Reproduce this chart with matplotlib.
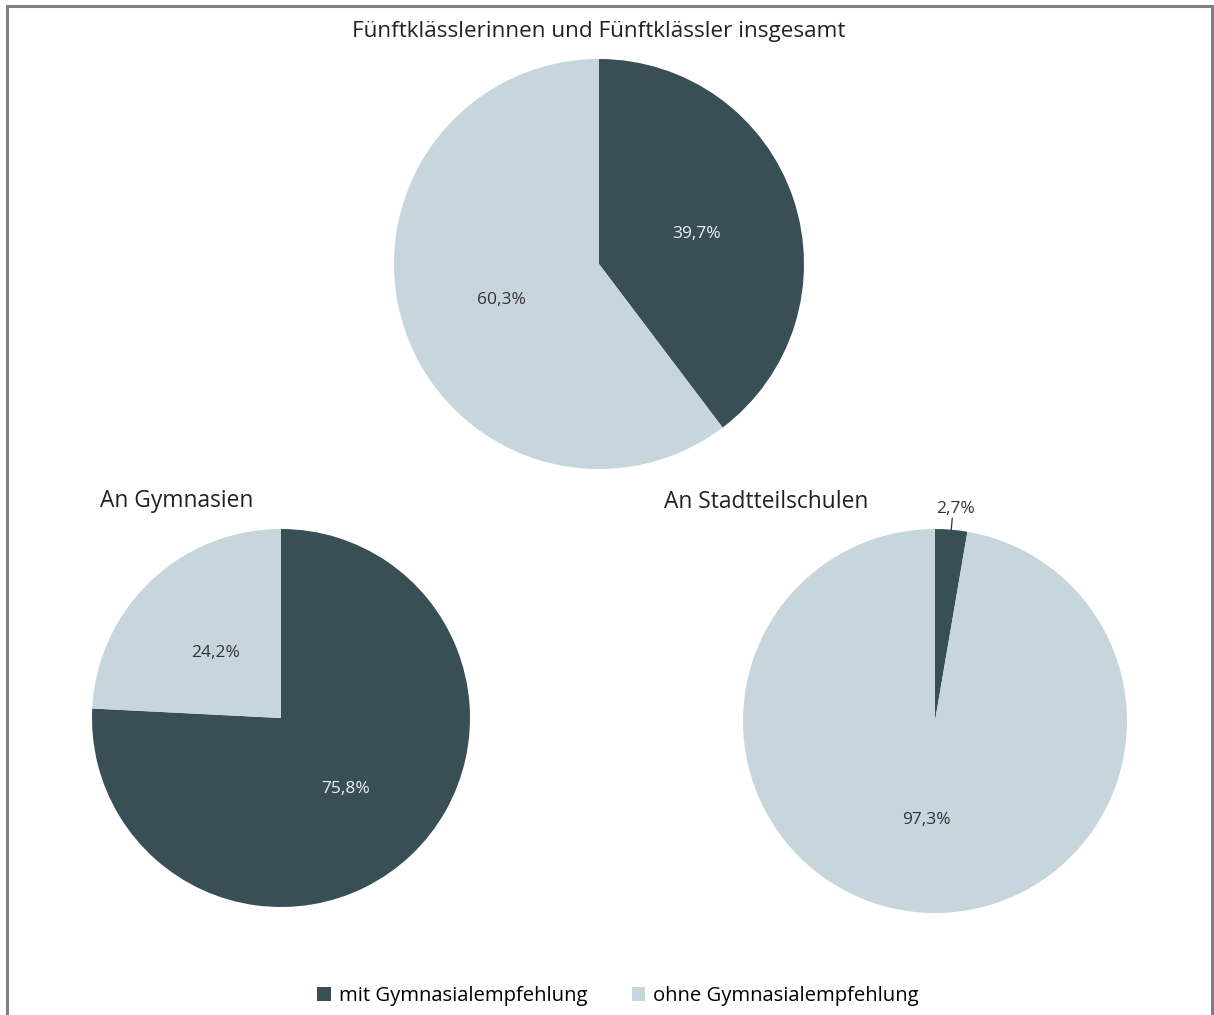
import matplotlib
matplotlib.use("Agg")
import numpy as np
import matplotlib.pyplot as plt
from matplotlib.patches import Rectangle, Patch

plt.rcParams['font.family'] = ['Open Sans', 'DejaVu Sans']

# Daten
kategorien = ['mit Gymnasialempfehlung', 'ohne Gymnasialempfehlung']
titel = ['Fünftklässlerinnen und Fünftklässler insgesamt', 'An Gymnasien', 'An Stadtteilschulen']
insgesamt = [39.7, 60.3]
gymnasien = [75.8, 24.2]
stadtteilschulen = [2.7, 97.3]

farben = ['#394f56', '#c7d6dc']
textfarben = ['#eef2f3', '#333333']

W, H = 1214, 1015
fig = plt.figure(figsize=(W / 100, H / 100), dpi=100)
ax = fig.add_axes([0, 0, 1, 1])

# Rahmen
fig.patches.append(Rectangle((7 / W, -0.1), (1212 - 7) / W, 1.1 - 6 / H,
                             transform=fig.transFigure, fill=False,
                             edgecolor='#808080', linewidth=2.2))


def fmt(p):
    return ('%.1f%%' % p).replace('.', ',')


def kuchen(werte, cx, cy, r, aussen_klein=False):
    wedges, texts, autotexts = ax.pie(werte, colors=farben, startangle=90,
                                      counterclock=False, center=(cx, H - cy),
                                      radius=r, autopct=fmt, pctdistance=0.5,
                                      textprops={'fontsize': 12.5})
    for i, t in enumerate(autotexts):
        t.set_color(textfarben[i])
        x, y = t.get_position()
        t.set_position((x, y - 3))
    if aussen_klein:
        autotexts[0].set_text('')
        # Beschriftung ausserhalb mit Linie
        w = wedges[0]
        ang = np.deg2rad((w.theta1 + w.theta2) / 2)
        x0 = cx + r * np.cos(ang)
        y0 = H - cy + r * np.sin(ang)
        ax.plot([x0, x0 + 0.06 * r * np.cos(ang)], [y0, y0 + 0.06 * r * np.sin(ang)],
                color='#333333', lw=0.9)
        ax.text(x0 + 0.06 * r * np.cos(ang) + 3, y0 + 0.06 * r * np.sin(ang) + 1,
                fmt(werte[0]), ha='center', va='bottom', fontsize=12.5, color='#333333')
    return wedges


kuchen(insgesamt, 599, 264, 205)
kuchen(gymnasien, 281, 718, 189)
kuchen(stadtteilschulen, 935, 721, 192, aussen_klein=True)

ax.set_xlim(0, W)
ax.set_ylim(0, H)
ax.set_aspect('equal')
ax.axis('off')

ax.text(599, H - 31, titel[0], ha='center', va='center', fontsize=16.2, color='#222222')
ax.text(100, H - 501, titel[1], ha='left', va='center', fontsize=16.4, color='#222222')
ax.text(664, H - 502, titel[2], ha='left', va='center', fontsize=16.4, color='#222222')

handles = [Patch(facecolor=farben[0]), Patch(facecolor=farben[1])]
fig.legend(handles, kategorien, loc='center', bbox_to_anchor=(618 / W, 1 - 996 / H),
           ncol=2, frameon=False, fontsize=14.6, handlelength=0.65, handleheight=0.75,
           handletextpad=0.4, columnspacing=2.2)

fig.savefig('out.png', dpi=100)
